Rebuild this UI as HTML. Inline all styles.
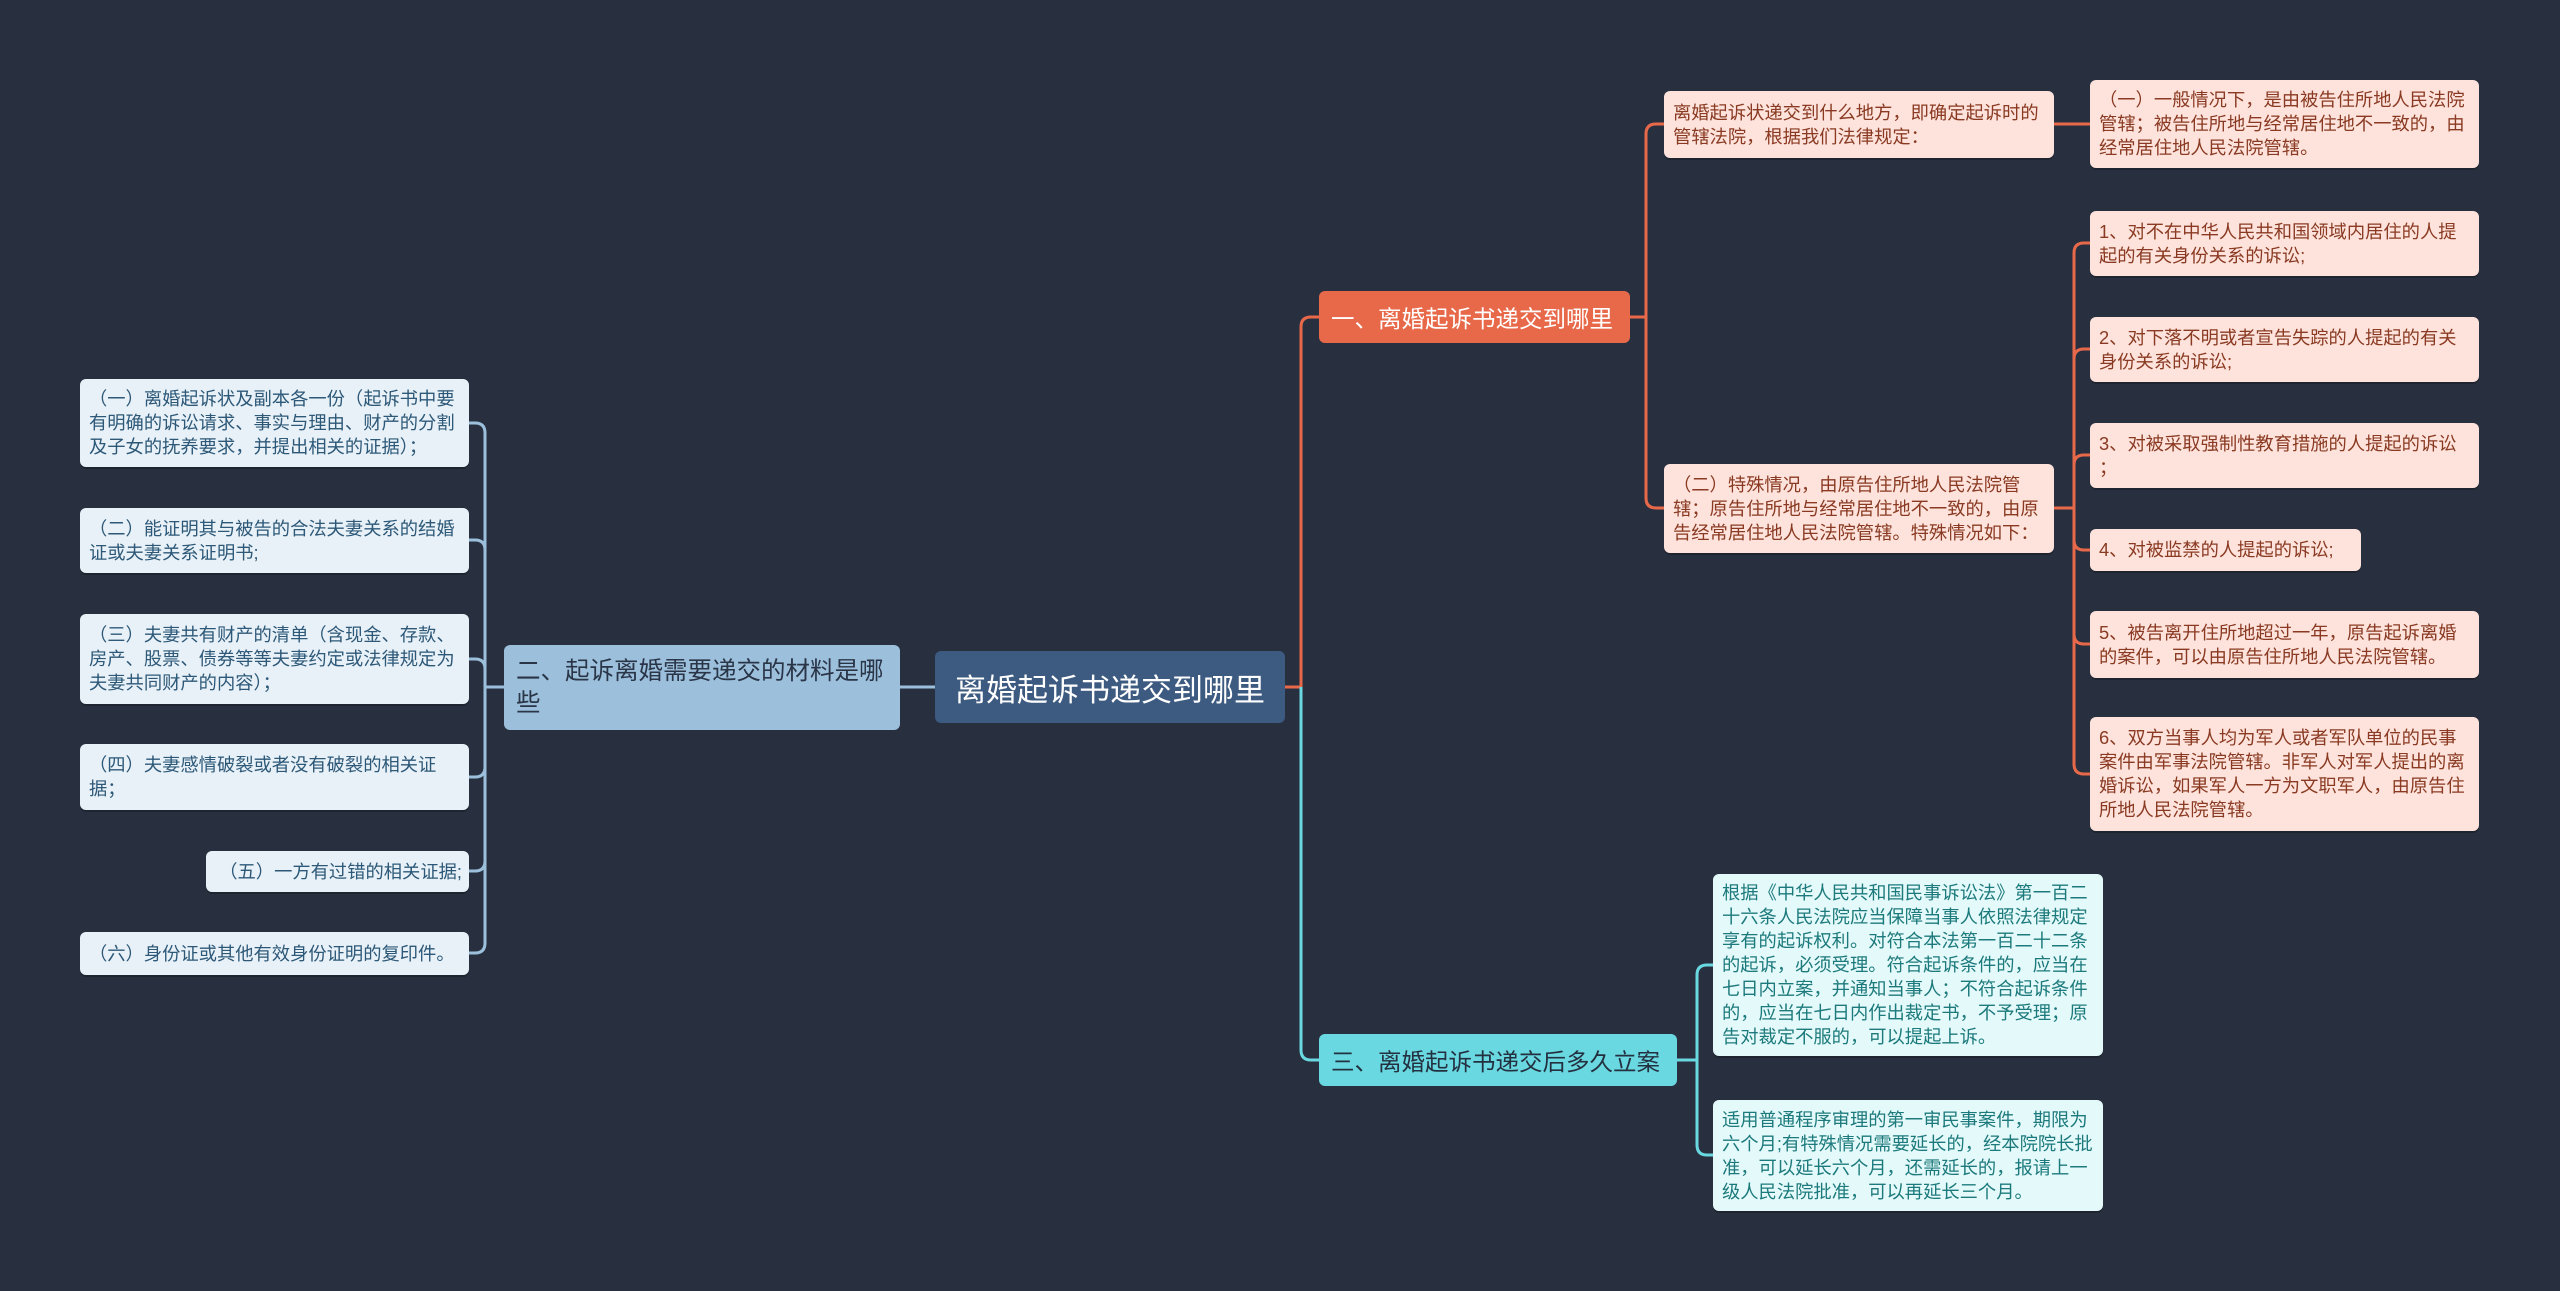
<!DOCTYPE html>
<html><head><meta charset="utf-8"><style>
html,body{margin:0;padding:0}
body{width:2560px;height:1291px;background:#283040;position:relative;overflow:hidden;font-family:"Liberation Sans","Noto Sans CJK SC",sans-serif}
.n{position:absolute;box-sizing:border-box;border-radius:6px;display:flex;align-items:center}
.l{font-size:18.3px;line-height:24px;padding:4px 7px 4px 9px;box-shadow:0 2px 0 rgba(0,0,0,.25);word-break:break-all}
.o{background:#fde3dc;color:#8a3a22}
.c{background:#e3f9fa;color:#1d7a7c}
.b{background:#e8f1f7;color:#2d5878}
.nw{white-space:nowrap}
svg{position:absolute;left:0;top:0}
</style></head><body>
<svg width="2560" height="1291" fill="none" stroke-width="3">
<g stroke="#9cc0dc">
<path d="M935 687 H900"/>
<path d="M504 687 H485 V433 Q485 423 475 423 H469"/>
<path d="M485 687 V550 Q485 540 475 540 H469"/>
<path d="M485 687 V669 Q485 659 475 659 H469"/>
<path d="M485 687 V767 Q485 777 475 777 H469"/>
<path d="M485 687 V861 Q485 871 475 871 H469"/>
<path d="M485 687 V943 Q485 953 475 953 H469"/>
</g>
<g stroke="#e8694a">
<path d="M1285 687 H1301 V327 Q1301 317 1311 317 H1319"/>
<path d="M1630 317 H1646 V134 Q1646 124 1656 124 H1664"/>
<path d="M1646 317 V498 Q1646 508 1656 508 H1664"/>
<path d="M2054 124 H2090"/>
<path d="M2054 508 H2074 V253 Q2074 243 2084 243 H2090"/>
<path d="M2074 508 V359 Q2074 349 2084 349 H2090"/>
<path d="M2074 508 V465 Q2074 455 2084 455 H2090"/>
<path d="M2074 508 V540 Q2074 550 2084 550 H2090"/>
<path d="M2074 508 V634 Q2074 644 2084 644 H2090"/>
<path d="M2074 508 V764 Q2074 774 2084 774 H2090"/>
</g>
<g stroke="#6ad8e0">
<path d="M1301 687 V1050 Q1301 1060 1311 1060 H1319"/>
<path d="M1677 1060 H1697 V975 Q1697 965 1707 965 H1713"/>
<path d="M1697 1060 V1145 Q1697 1155 1707 1155 H1713"/>
</g>
</svg>

<div class="n" style="left:935px;top:651px;width:350px;height:72px;background:#3d5a80;color:#fff;font-size:31px;justify-content:center">离婚起诉书递交到哪里</div>

<div class="n" style="left:504px;top:645px;width:396px;height:85px;background:#9cc0dc;color:#2a3548;font-size:24.5px;line-height:32px;padding:4px 12px">二、起诉离婚需要递交的材料是哪些</div>
<div class="n l b" style="left:80px;top:379px;width:389px;height:88px">（一）离婚起诉状及副本各一份（起诉书中要有明确的诉讼请求、事实与理由、财产的分割及子女的抚养要求，并提出相关的证据）；</div>
<div class="n l b" style="left:80px;top:508px;width:389px;height:65px">（二）能证明其与被告的合法夫妻关系的结婚证或夫妻关系证明书;</div>
<div class="n l b" style="left:80px;top:614px;width:389px;height:90px">（三）夫妻共有财产的清单（含现金、存款、房产、股票、债券等等夫妻约定或法律规定为夫妻共同财产的内容）；</div>
<div class="n l b" style="left:80px;top:744px;width:389px;height:66px">（四）夫妻感情破裂或者没有破裂的相关证据；</div>
<div class="n l b nw" style="left:206px;top:851px;width:263px;height:41px;justify-content:flex-end">（五）一方有过错的相关证据;</div>
<div class="n l b" style="left:80px;top:932px;width:389px;height:43px">（六）身份证或其他有效身份证明的复印件。</div>

<div class="n nw" style="left:1319px;top:291px;width:311px;height:52px;background:#e8694a;color:#fff;font-size:23.5px;padding:0 12px">一、离婚起诉书递交到哪里</div>
<div class="n l o" style="left:1664px;top:91px;width:390px;height:67px">离婚起诉状递交到什么地方，即确定起诉时的管辖法院，根据我们法律规定：</div>
<div class="n l o" style="left:1664px;top:464px;width:390px;height:89px">（二）特殊情况，由原告住所地人民法院管辖；原告住所地与经常居住地不一致的，由原告经常居住地人民法院管辖。特殊情况如下：</div>
<div class="n l o" style="left:2090px;top:80px;width:389px;height:88px">（一）一般情况下，是由被告住所地人民法院管辖；被告住所地与经常居住地不一致的，由经常居住地人民法院管辖。</div>
<div class="n l o" style="left:2090px;top:211px;width:389px;height:65px">1、对不在中华人民共和国领域内居住的人提起的有关身份关系的诉讼;</div>
<div class="n l o" style="left:2090px;top:317px;width:389px;height:65px">2、对下落不明或者宣告失踪的人提起的有关身份关系的诉讼;</div>
<div class="n l o" style="left:2090px;top:423px;width:389px;height:65px">3、对被采取强制性教育措施的人提起的诉讼<br>；</div>
<div class="n l o nw" style="left:2090px;top:529px;width:271px;height:42px">4、对被监禁的人提起的诉讼;</div>
<div class="n l o" style="left:2090px;top:611px;width:389px;height:67px">5、被告离开住所地超过一年，原告起诉离婚的案件，可以由原告住所地人民法院管辖。</div>
<div class="n l o" style="left:2090px;top:717px;width:389px;height:114px">6、双方当事人均为军人或者军队单位的民事案件由军事法院管辖。非军人对军人提出的离婚诉讼，如果军人一方为文职军人，由原告住所地人民法院管辖。</div>

<div class="n nw" style="left:1319px;top:1034px;width:358px;height:52px;background:#6ad8e0;color:#233040;font-size:23.5px;padding:0 12px">三、离婚起诉书递交后多久立案</div>
<div class="n l c" style="left:1713px;top:874px;width:390px;height:182px">根据《中华人民共和国民事诉讼法》第一百二十六条人民法院应当保障当事人依照法律规定享有的起诉权利。对符合本法第一百二十二条的起诉，必须受理。符合起诉条件的，应当在七日内立案，并通知当事人；不符合起诉条件的，应当在七日内作出裁定书，不予受理；原告对裁定不服的，可以提起上诉。</div>
<div class="n l c" style="left:1713px;top:1100px;width:390px;height:111px">适用普通程序审理的第一审民事案件，期限为六个月;有特殊情况需要延长的，经本院院长批准，可以延长六个月，还需延长的，报请上一级人民法院批准，可以再延长三个月。</div>
</body></html>
